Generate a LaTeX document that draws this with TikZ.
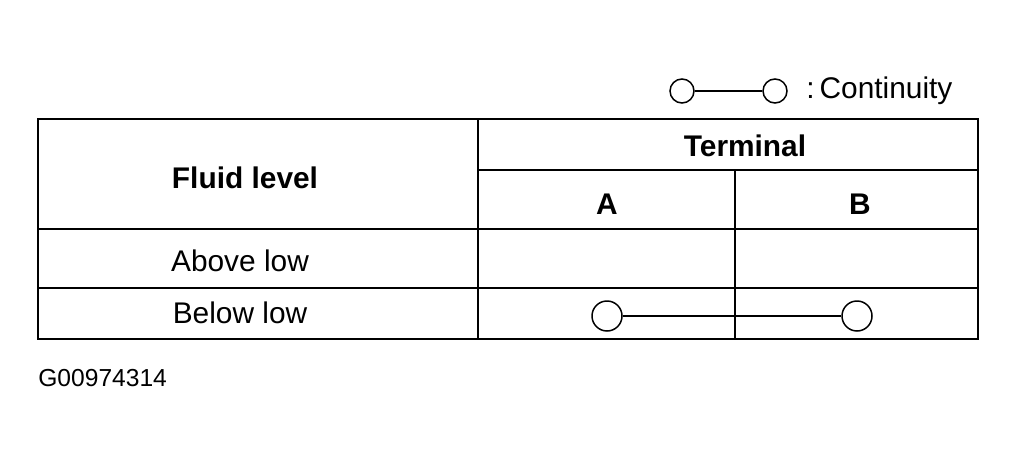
\documentclass[tikz,border=0pt]{standalone}
\usepackage{fontspec}
\setmainfont{Liberation Sans}
\begin{document}
\begin{tikzpicture}[x=0.02cm,y=-0.02cm,
  rule/.style={line width=0.3mm},
  cell/.style={font=\fontsize{17pt}{19pt}\selectfont},
  head/.style={font=\fontsize{17pt}{19pt}\selectfont\bfseries},
  dot/.style={circle,draw,line width=0.3mm,inner sep=0pt,minimum size=#1}]
  \useasboundingbox (0,0) rectangle (1017,459);

  % table frame
  \draw[rule] (38,119) rectangle (978,339);
  \draw[rule] (478,119) -- (478,339);
  \draw[rule] (478,170) -- (978,170);
  \draw[rule] (735,170) -- (735,339);
  \draw[rule] (38,229) -- (978,229);
  \draw[rule] (38,288) -- (978,288);

  % headings
  \node[head] (fluid) at (245,178) {Fluid level};
  \node[head] (term) at (745,146) {Terminal};
  \node[head] (ta) at (607,204) {A};
  \node[head] (tb) at (860,204) {B};
  \node[cell] (above) at (240,261) {Above low};
  \node[cell] (below) at (240,313) {Below low};

  % continuity
  \node[dot=0.6cm] (ca) at (607,316) {};
  \node[dot=0.6cm] (cb) at (857,316) {};
  \draw[rule] (ca) -- (cb);

  % legend
  \node[dot=0.48cm] (la) at (682,91) {};
  \node[dot=0.48cm] (lb) at (775,91) {};
  \draw[rule] (la) -- (lb);
  \node[cell,anchor=west,inner sep=0pt] (legend) at (806,91) {:\,Continuity};

  \node[font=\fontsize{14pt}{16pt}\selectfont,anchor=west,inner sep=0pt] (code) at (38,378) {G00974314};
\end{tikzpicture}
\end{document}
